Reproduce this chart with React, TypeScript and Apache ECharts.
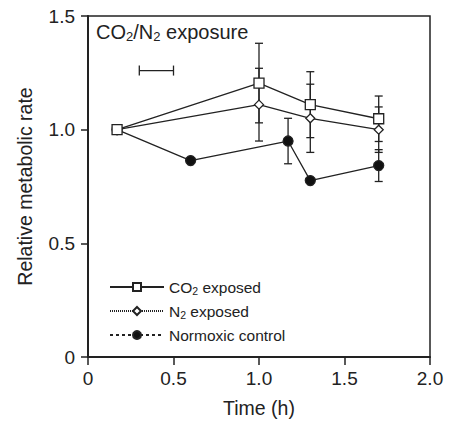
import React, { useEffect, useRef } from "react";
import * as echarts from "echarts";

const times = [0.17, 1.0, 1.3, 1.7];
const co2 = [1.0, 1.205, 1.11, 1.048];
const co2Err = [0, 0.175, 0.145, 0.1];
const n2 = [1.0, 1.11, 1.05, 1.0];
const n2Err = [0, 0.16, 0.15, 0.1];
const normTimes = [0.17, 0.6, 1.17, 1.3, 1.7];
const normoxic = [1.0, 0.864, 0.95, 0.776, 0.842];
const normErr = [0, 0, 0.1, 0, 0.07];
const exposureBar = [[0.3, 0.5, 1.26]];

const FONT = "Liberation Sans, Arial, Helvetica, sans-serif";

function errData(xs: number[], ys: number[], es: number[]) {
  const out: number[][] = [];
  xs.forEach((x, i) => {
    if (es[i] > 0) out.push([x, ys[i] - es[i], ys[i] + es[i]]);
  });
  return out;
}

function errRender(params: any, api: any) {
  const x = api.value(0);
  const lo = api.coord([x, api.value(1)]);
  const hi = api.coord([x, api.value(2)]);
  const w = 4;
  const st = { stroke: "#222", lineWidth: 1.3 };
  return {
    type: "group",
    children: [
      { type: "line", shape: { x1: lo[0], y1: lo[1], x2: hi[0], y2: hi[1] }, style: st },
      { type: "line", shape: { x1: lo[0] - w, y1: lo[1], x2: lo[0] + w, y2: lo[1] }, style: st },
      { type: "line", shape: { x1: hi[0] - w, y1: hi[1], x2: hi[0] + w, y2: hi[1] }, style: st },
    ],
  };
}

function barRender(params: any, api: any) {
  const a = api.coord([api.value(0), api.value(2)]);
  const b = api.coord([api.value(1), api.value(2)]);
  const h = 5;
  const st = { stroke: "#222", lineWidth: 1.3 };
  return {
    type: "group",
    children: [
      { type: "line", shape: { x1: a[0], y1: a[1], x2: b[0], y2: b[1] }, style: st },
      { type: "line", shape: { x1: a[0], y1: a[1] - h, x2: a[0], y2: a[1] + h }, style: st },
      { type: "line", shape: { x1: b[0], y1: b[1] - h, x2: b[0], y2: b[1] + h }, style: st },
    ],
  };
}

const rich = {
  a: { fontSize: 15.5, fontFamily: FONT, color: "#222", fontWeight: "normal" },
  b: { fontSize: 10.5, fontFamily: FONT, color: "#222", fontWeight: "normal", padding: [7, 0, 0, 0] },
};
const titleRich = {
  a: { fontSize: 20, fontFamily: FONT, color: "#222", fontWeight: "normal" },
  b: { fontSize: 13, fontFamily: FONT, color: "#222", fontWeight: "normal", padding: [9, 0, 0, 0] },
};

const legendLabels: Record<string, string> = {
  "CO2 exposed": "{a|CO}{b|2}{a| exposed}",
  "N2 exposed": "{a|N}{b|2}{a| exposed}",
  "Normoxic control": "{a|Normoxic control}",
};

export default function App() {
  const ref = useRef<HTMLDivElement>(null);
  useEffect(() => {
    const chart = echarts.init(ref.current!, null, { renderer: "svg" });
    const lineSeries = (name: string, xs: number[], ys: number[], symbol: string, size: number, fill: string, z: number) => ({
      type: "line",
      name,
      data: xs.map((x, i) => [x, ys[i]]),
      symbol,
      symbolSize: size,
      showSymbol: true,
      z,
      lineStyle: { color: "#222", width: 1.3 },
      itemStyle: { color: fill, borderColor: "#222", borderWidth: 1.3 },
    });
    const labelStyle = {
      fontSize: 19,
      color: "#222",
      fontFamily: FONT,
      fontWeight: "normal",
      formatter: (v: number) => (v === 0 ? "0" : v.toFixed(1)),
    };
    const nameStyle = { fontSize: 19.5, color: "#222", fontFamily: FONT, fontWeight: "normal" };
    chart.setOption({
      animation: false,
      backgroundColor: "#fff",
      textStyle: { fontFamily: FONT, fontWeight: "normal" },
      title: {
        text: "{a|CO}{b|2}{a|/N}{b|2}{a| exposure}",
        left: 91,
        top: 16,
        textStyle: { rich: titleRich, fontWeight: "normal" },
      },
      grid: {
        left: 88,
        top: 16,
        right: 19,
        bottom: 64,
        outerBoundsMode: "none",
        containLabel: false,
        show: true,
        borderColor: "#222",
        borderWidth: 1.5,
        backgroundColor: "transparent",
      },
      legend: {
        orient: "vertical",
        left: 104,
        top: 274,
        itemWidth: 54,
        itemHeight: 10,
        itemGap: 7,
        data: [
          { name: "CO2 exposed", lineStyle: { type: "solid" } },
          { name: "N2 exposed", lineStyle: { type: [1, 1] } },
          { name: "Normoxic control", lineStyle: { type: [3, 3] } },
        ],
        formatter: (n: string) => legendLabels[n],
        textStyle: { rich, fontSize: 15.5, color: "#222" },
      },
      xAxis: {
        type: "value",
        min: 0,
        max: 2,
        interval: 0.5,
        name: "Time (h)",
        nameLocation: "middle",
        nameGap: 41,
        nameTextStyle: nameStyle,
        axisLine: { lineStyle: { color: "#222", width: 2 } },
        axisTick: { length: 8, lineStyle: { color: "#222", width: 1.5 } },
        axisLabel: { ...labelStyle, margin: 12 },
        splitLine: { show: false },
      },
      yAxis: {
        type: "value",
        min: 0,
        max: 1.5,
        interval: 0.5,
        name: "Relative metabolic rate",
        nameLocation: "middle",
        nameGap: 53,
        nameTextStyle: nameStyle,
        axisLine: { lineStyle: { color: "#222", width: 2 } },
        axisTick: { length: 7, lineStyle: { color: "#222", width: 1.5 } },
        axisLabel: { ...labelStyle, margin: 13 },
        splitLine: { show: false },
      },
      series: [
        { type: "custom", name: "err-co2", renderItem: errRender, data: errData(times, co2, co2Err), z: 1, silent: true },
        { type: "custom", name: "err-n2", renderItem: errRender, data: errData(times, n2, n2Err), z: 1, silent: true },
        { type: "custom", name: "err-norm", renderItem: errRender, data: errData(normTimes, normoxic, normErr), z: 1, silent: true },
        { type: "custom", name: "bar", renderItem: barRender, data: exposureBar, z: 1, silent: true },
        lineSeries("Normoxic control", normTimes, normoxic, "circle", 10, "#111", 3),
        lineSeries("N2 exposed", times, n2, "diamond", 9, "#fff", 4),
        lineSeries("CO2 exposed", times, co2, "rect", 10, "#fff", 5),
      ],
    });
    return () => chart.dispose();
  }, []);
  return <div ref={ref} style={{ width: 449, height: 421, position: "absolute", left: 0, top: 0 }} />;
}
